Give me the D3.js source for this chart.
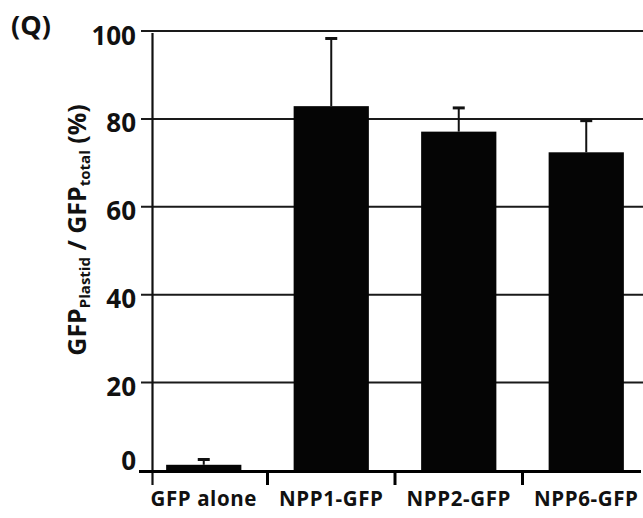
<!DOCTYPE html>
<html>
<head>
<meta charset="utf-8">
<script src="https://cdn.jsdelivr.net/npm/d3@7"></script>
<style>
    body { margin: 0; background: #fff; }
    text { font-family: "Open Sans", "DejaVu Sans", sans-serif; font-weight: bold; fill: #111; }
</style>
</head>
<body>
<div id="chart"></div>
<script>
// data
var categories = ["GFP alone", "NPP1-GFP", "NPP2-GFP", "NPP6-GFP"];
var means = [1.3, 82.9, 77.1, 72.4];
var errors = [1.2, 15.4, 5.4, 7.2];
var yTicks = [0, 20, 40, 60, 80, 100];

var W = 643, H = 518;
var svg = d3.select("#chart").append("svg")
    .attr("width", W).attr("height", H)
    .style("background", "#fff");

var x = d3.scaleBand().domain(categories).range([140, 650])
    .paddingInner(0.41).paddingOuter(0.205);
var y = d3.scaleLinear().domain([0, 100]).range([470.5, 31]);
var axisX = 152.5;

// gridlines (not at 0, the bottom axis covers it)
svg.append("g").selectAll("line")
    .data(yTicks.filter(function (d) { return d > 0; }))
    .enter().append("line")
    .attr("x1", 141).attr("x2", W)
    .attr("y1", function (d) { return y(d); })
    .attr("y2", function (d) { return y(d); })
    .attr("stroke", "#1a1a1a").attr("stroke-width", 2);

// y axis line
svg.append("line")
    .attr("x1", axisX).attr("x2", axisX)
    .attr("y1", y(100) + 2).attr("y2", 485)
    .attr("stroke", "#111").attr("stroke-width", 2.2);

// y tick labels
svg.append("g").selectAll("text")
    .data(yTicks).enter().append("text")
    .attr("x", 136)
    .attr("y", function (d) { return d === 0 ? y(d) - 1 : y(d) + 13.5; })
    .attr("text-anchor", "end")
    .style("font-size", "26px")
    .text(function (d) { return d; });

// bars
svg.append("g").selectAll("rect")
    .data(categories).enter().append("rect")
    .attr("x", function (d) { return x(d); })
    .attr("width", x.bandwidth())
    .attr("y", function (d, i) { return y(means[i]); })
    .attr("height", function (d, i) { return y(0) + 2 - y(means[i]); })
    .attr("fill", "#050505");

// error bars (upper only)
var eb = svg.append("g").selectAll("g")
    .data(categories).enter().append("g");
eb.append("line")
    .attr("x1", function (d) { return x(d) + x.bandwidth() / 2; })
    .attr("x2", function (d) { return x(d) + x.bandwidth() / 2; })
    .attr("y1", function (d, i) { return y(means[i]); })
    .attr("y2", function (d, i) { return y(means[i] + errors[i]); })
    .attr("stroke", "#111").attr("stroke-width", 2);
eb.append("line")
    .attr("x1", function (d) { return x(d) + x.bandwidth() / 2 - 6; })
    .attr("x2", function (d) { return x(d) + x.bandwidth() / 2 + 6; })
    .attr("y1", function (d, i) { return y(means[i] + errors[i]); })
    .attr("y2", function (d, i) { return y(means[i] + errors[i]); })
    .attr("stroke", "#111").attr("stroke-width", 3);

// bottom axis
svg.append("line")
    .attr("x1", 139).attr("x2", 641)
    .attr("y1", y(0) + 1).attr("y2", y(0) + 1)
    .attr("stroke", "#000").attr("stroke-width", 3);
svg.append("g").selectAll("line")
    .data(categories.slice(1)).enter().append("line")
    .attr("x1", function (d) { return x(d) - x.step() * x.paddingInner() / 2; })
    .attr("x2", function (d) { return x(d) - x.step() * x.paddingInner() / 2; })
    .attr("y1", y(0)).attr("y2", 485)
    .attr("stroke", "#000").attr("stroke-width", 3);

// category labels
svg.append("g").selectAll("text")
    .data(categories).enter().append("text")
    .attr("x", function (d) { return x(d) + x.bandwidth() / 2; })
    .attr("y", 506)
    .attr("text-anchor", "middle")
    .style("font-size", "20.5px")
    .style("letter-spacing", "0.6px")
    .text(function (d) { return d; });

// y title with subscripts
var title = svg.append("text")
    .attr("transform", "translate(86,230) rotate(-90)")
    .attr("text-anchor", "middle")
    .style("font-size", "25px");
title.append("tspan").text("GFP");
title.append("tspan").attr("dy", 4).style("font-size", "15px").text("Plastid");
title.append("tspan").attr("dy", -4).text("\u00a0/\u00a0");
title.append("tspan").text("GFP");
title.append("tspan").attr("dy", 4).style("font-size", "15px").text("total");
title.append("tspan").attr("dy", -4).text(" (%)");

// panel letter
svg.append("text")
    .attr("x", 11).attr("y", 35)
    .style("font-size", "27px")
    .text("(Q)");
</script>
</body>
</html>
